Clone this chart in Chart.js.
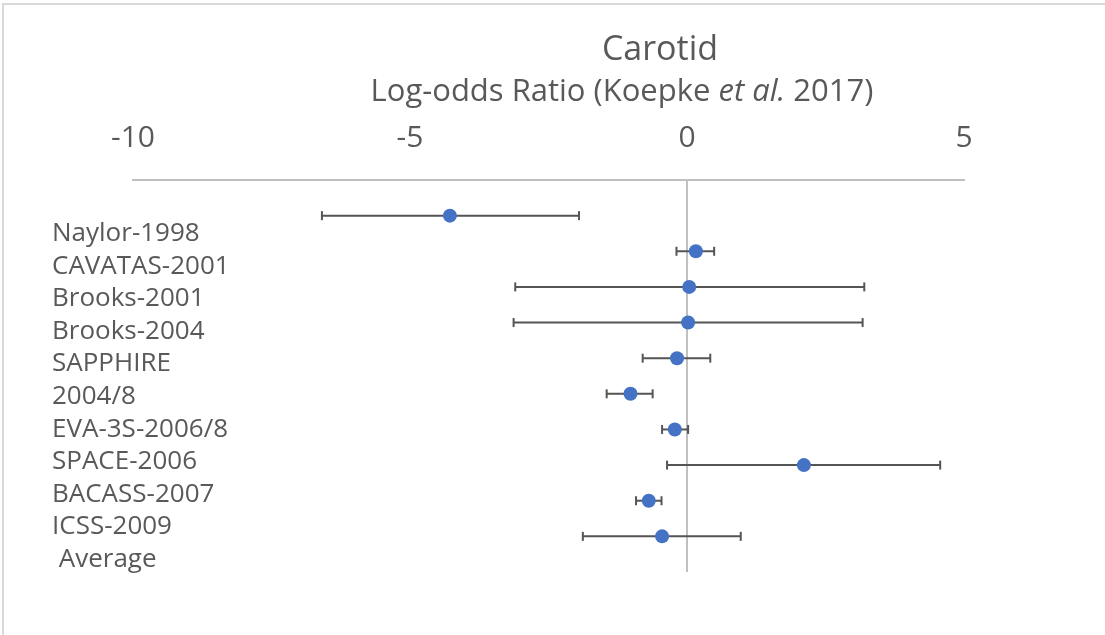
<!DOCTYPE html>
<html>
<head>
<meta charset="utf-8">
<script src="https://cdn.jsdelivr.net/npm/chart.js@4/dist/chart.umd.min.js"></script>
<style>
  html, body { margin: 0; padding: 0; background: #ffffff; }
  #wrap { position: relative; width: 1105px; height: 635px; overflow: hidden; }
  #frame { position: absolute; left: 2px; top: 3px; right: -4px; bottom: -4px;
           border-top: 2px solid #d9d9d9; border-left: 2px solid #d9d9d9; pointer-events: none; }
  #chart { position: absolute; left: 0; top: 0; }
</style>
</head>
<body>
<div id="wrap">
  <div id="frame"></div>
  <canvas id="chart" width="1105" height="635"></canvas>
</div>
<script>
// Study labels listed down the left side
const studyLabels = [
  'Naylor-1998', 'CAVATAS-2001', 'Brooks-2001', 'Brooks-2004', 'SAPPHIRE',
  '2004/8', 'EVA-3S-2006/8', 'SPACE-2006', 'BACASS-2007', 'ICSS-2009', ' Average'
];

// Log-odds ratio estimates and their interval bounds, one per row
const logOdds  = [-4.28, 0.16, 0.04, 0.02, -0.18, -1.02, -0.22, 2.11, -0.69, -0.45];
const lowerCI  = [-6.59, -0.19, -3.10, -3.13, -0.80, -1.45, -0.45, -0.36, -0.92, -1.88];
const upperCI  = [-1.95, 0.49, 3.20, 3.17, 0.42, -0.62, 0.02, 4.57, -0.46, 0.97];

// Axis ticks
const xTicks = [-10, -5, 0, 5];

const TEXT = '#595959';
const FONT = "'Open Sans', 'Noto Sans', sans-serif";

// Row positions on the vertical scale (1..n, top to bottom)
const rows = logOdds.map((_, i) => i + 1);

const pointData = logOdds.map((v, i) => ({ x: v, y: rows[i] }));

const errorBarSets = logOdds.map((_, i) => ({
  type: 'scatter',
  data: [{ x: lowerCI[i], y: rows[i] }, { x: upperCI[i], y: rows[i] }],
  showLine: true,
  borderColor: '#555555',
  borderWidth: 2,
  pointStyle: 'line',
  rotation: 90,
  pointRadius: 4.5,
  pointBorderColor: '#555555',
  pointBorderWidth: 2,
  pointHoverRadius: 4.5,
  xAxisID: 'x',
  yAxisID: 'y'
}));

// Title and subtitle drawn above the axis
const headingPlugin = {
  id: 'heading',
  afterDraw(chart, args, opts) {
    const ctx = chart.ctx;
    ctx.save();
    ctx.fillStyle = TEXT;
    ctx.textBaseline = 'middle';
    ctx.textAlign = 'left';
    for (const line of opts.lines) {
      const widths = line.runs.map(r => {
        ctx.font = (r.italic ? 'italic ' : '') + line.size + 'px ' + FONT;
        return ctx.measureText(r.text).width;
      });
      const total = widths.reduce((a, b) => a + b, 0);
      let x = line.cx - total / 2;
      line.runs.forEach((r, k) => {
        ctx.font = (r.italic ? 'italic ' : '') + line.size + 'px ' + FONT;
        ctx.fillText(r.text, x, line.cy);
        x += widths[k];
      });
    }
    ctx.restore();
  }
};

new Chart(document.getElementById('chart'), {
  type: 'scatter',
  data: {
    datasets: [
      {
        data: pointData,
        backgroundColor: '#4472C4',
        borderColor: '#4472C4',
        borderWidth: 0,
        pointRadius: 7,
        pointHoverRadius: 7,
        xAxisID: 'x',
        yAxisID: 'y'
      },
      ...errorBarSets
    ]
  },
  options: {
    responsive: false,
    animation: false,
    devicePixelRatio: 1,
    layout: { padding: { top: 96, left: 52, right: 141, bottom: 63 } },
    plugins: {
      legend: { display: false },
      tooltip: { enabled: false },
      heading: {
        lines: [
          { cx: 660, cy: 50, size: 34, runs: [{ text: 'Carotid' }] },
          { cx: 622, cy: 92, size: 31, runs: [
            { text: 'Log-odds Ratio (Koepke ' },
            { text: 'et al.', italic: true },
            { text: ' 2017)' }
          ] }
        ]
      }
    },
    scales: {
      x: {
        type: 'linear',
        position: 'top',
        min: xTicks[0],
        max: xTicks[xTicks.length - 1],
        afterBuildTicks: s => { s.ticks = xTicks.map(v => ({ value: v })); },
        ticks: {
          color: TEXT,
          font: { family: FONT, size: 30 },
          padding: 24,
          maxRotation: 0
        },
        grid: {
          drawTicks: false,
          lineWidth: 2,
          color: c => (c.tick && c.tick.value === 0) ? '#c0c0c0' : 'rgba(0,0,0,0)'
        },
        border: { display: true, color: '#c0c0c0', width: 2 }
      },
      y: {
        type: 'linear',
        min: 0,
        max: rows.length + 1,
        reverse: true,
        display: false
      },
      labels: {
        type: 'linear',
        position: 'left',
        min: -1.656,
        max: 10.39,
        reverse: true,
        afterBuildTicks: s => { s.ticks = studyLabels.map((_, i) => ({ value: i })); },
        afterFit: s => { s.width = 81; },
        ticks: {
          color: TEXT,
          font: { family: FONT, size: 26 },
          mirror: true,
          padding: -81,
          autoSkip: false,
          callback: v => studyLabels[v]
        },
        grid: { display: false, drawTicks: false },
        border: { display: false }
      }
    }
  },
  plugins: [headingPlugin]
});
</script>
</body>
</html>
